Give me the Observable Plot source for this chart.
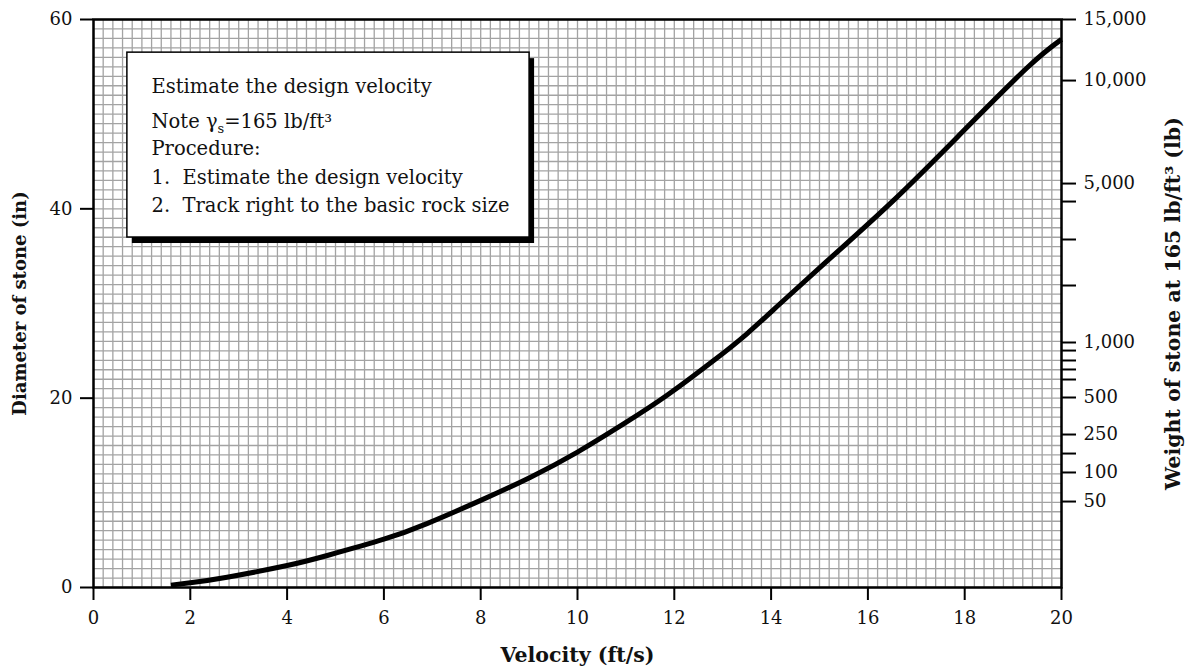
<!DOCTYPE html>
<html>
<head>
<meta charset="utf-8">
<script src="https://cdn.jsdelivr.net/npm/d3@7"></script>
<script src="https://cdn.jsdelivr.net/npm/@observablehq/plot@0.6"></script>
<style>
  html, body { margin: 0; padding: 0; background: #fff; }
  #chart svg { display: block; }
</style>
</head>
<body>
<div id="chart"></div>
<script>
// ---- data ----
const velocity = [1.6, 2.0, 2.76, 4.0, 4.83, 6.0, 6.89, 8.0, 9.03, 10.0, 10.96, 11.85, 12.82, 13.5, 14.19, 15.16, 16.53, 17.91, 19.29, 20.0];
const diameter = [0.25, 0.5, 1.09, 2.32, 3.38, 5.1, 6.75, 9.2, 11.65, 14.3, 17.3, 20.3, 24.0, 26.8, 30.0, 34.5, 40.9, 47.9, 54.9, 57.9];

const xTicks = [0, 2, 4, 6, 8, 10, 12, 14, 16, 18, 20];
const yTicks = [0, 20, 40, 60];

// right axis: weight ticks placed at the diameter they correspond to
const weightDiam   = [60, 53.55, 42.67, 40.77, 36.76, 31.9, 25.88, 25.03, 23.98, 23.03, 21.97, 20.07, 16.16, 14.15, 12.15, 9.08];
const weightLabels = ["15,000", "10,000", "5,000", "", "", "", "1,000", "", "", "", "", "500", "250", "", "100", "50"];

const gridX = d3.range(0, 101).map(i => i / 5);   // every 0.2 ft/s
const gridY = d3.range(0, 61);                    // every 1 in

const noteLines = [
  "Estimate the design velocity",
  "Note γs=165 lb/ft³",
  "Procedure:",
  "1.  Estimate the design velocity",
  "2.  Track right to the basic rock size"
];

const xLabel = "Velocity (ft/s)";
const yLabel = "Diameter of stone (in)";
const y2Label = "Weight of stone at 165 lb/ft³ (lb)";

// ---- layout / style constants ----
const noteBox = {x1: 0.70, x2: 9.01, y1: 36.97, y2: 56.5};
const noteDy = [67, 102, 129, 158, 186];
const ink = "#111";
const font = "DejaVu Serif";

const curveData = velocity.map((v, i) => ({v, d: diameter[i]}));
const weightMap = new Map(weightDiam.map((d, i) => [d, weightLabels[i]]));

const chart = Plot.plot({
  width: 1193,
  height: 669,
  marginLeft: 93,
  marginRight: 132,
  marginTop: 19,
  marginBottom: 82,
  style: {fontFamily: font, fontSize: "18px", color: ink, background: "#fff"},
  x: {domain: [0, 20]},
  y: {domain: [0, 60]},
  marks: [
    Plot.ruleX(gridX, {stroke: "#a3a3a3", strokeWidth: 1.3}),
    Plot.ruleY(gridY, {stroke: "#a3a3a3", strokeWidth: 1.3}),
    // annotation box with drop shadow
    Plot.rect([noteBox], {x1: "x1", x2: "x2", y1: "y1", y2: "y2", fill: "#000", dx: 5, dy: 6}),
    Plot.rect([noteBox], {x1: "x1", x2: "x2", y1: "y1", y2: "y2", fill: "#fff", stroke: "#000", strokeWidth: 1.5}),
    ...noteLines.map((t, i) => Plot.text([t], {
      frameAnchor: "top-left", dx: 58, dy: noteDy[i], textAnchor: "start", lineAnchor: "middle",
      fill: ink, fontSize: 19.5
    })),
    // curve
    Plot.line(curveData, {x: "v", y: "d", stroke: "#000", strokeWidth: 5, curve: "natural", strokeLinecap: "butt"}),
    Plot.frame({stroke: "#000", strokeWidth: 2.5}),
    // axes
    Plot.axisX({ticks: xTicks, tickSize: 13, tickPadding: 11, label: null, stroke: "#000", strokeWidth: 2, fill: ink}),
    Plot.axisY({anchor: "left", ticks: yTicks, tickSize: 13, tickPadding: 8, label: null, stroke: "#000", strokeWidth: 2, fill: ink}),
    Plot.axisY({anchor: "right", ticks: weightDiam, tickFormat: d => weightMap.get(d), tickSize: 14, tickPadding: 8, label: null, stroke: "#000", strokeWidth: 2, fill: ink}),
    // axis titles
    Plot.text([xLabel], {frameAnchor: "bottom", dy: 68, textAnchor: "middle", fontWeight: "bold", fontSize: 20.5, fill: ink, lineAnchor: "middle"}),
    Plot.text([yLabel], {frameAnchor: "left", dx: -73, rotate: -90, textAnchor: "middle", fontWeight: "bold", fontSize: 18, fill: ink, lineAnchor: "middle"}),
    Plot.text([y2Label], {frameAnchor: "right", dx: 112, rotate: -90, textAnchor: "middle", fontWeight: "bold", fontSize: 20.5, fill: ink, lineAnchor: "middle"})
  ]
});

// subscript on gamma
d3.select(chart).selectAll("text").each(function() {
  if (this.textContent === noteLines[1]) {
    this.textContent = "";
    const s = d3.select(this);
    s.append("tspan").text("Note γ");
    s.append("tspan").attr("dy", 5).attr("font-size", 13).text("s");
    s.append("tspan").attr("dy", -5).text("=165 lb/ft³");
  }
});

document.getElementById("chart").appendChild(chart);
</script>
</body>
</html>
